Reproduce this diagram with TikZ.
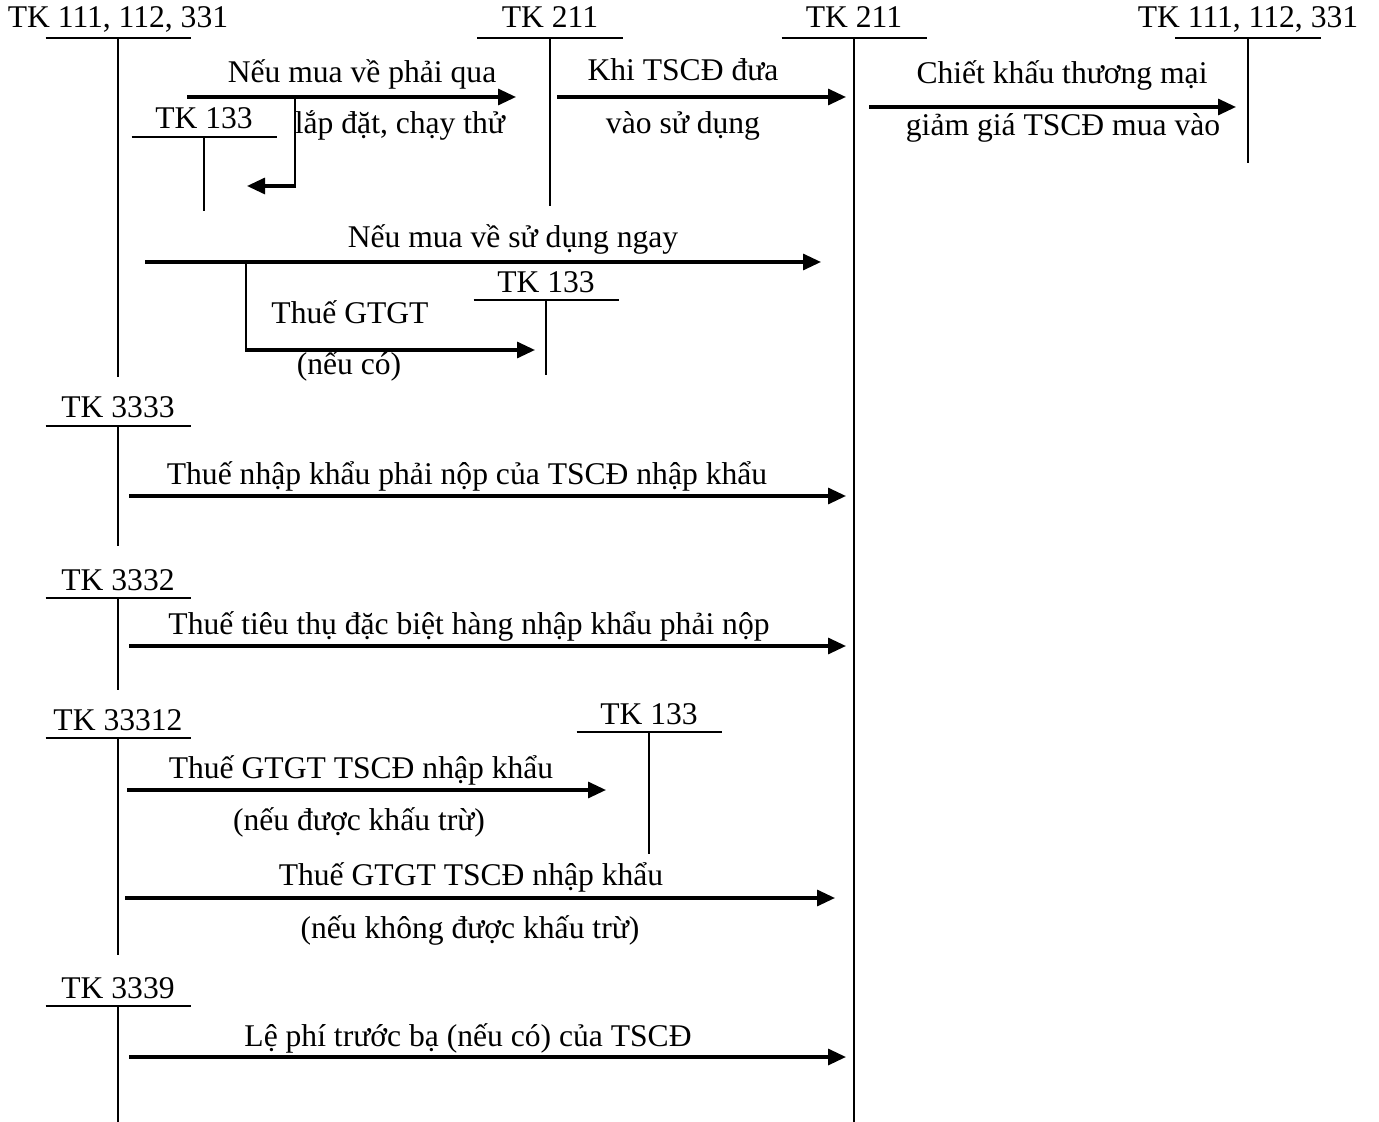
\documentclass[tikz,border=0pt]{standalone}
\usepackage{fontspec}
\setmainfont{Liberation Serif}
\usetikzlibrary{arrows.meta,calc}
\newcommand\TAcc[7]{%
  \node[lbl] (#1) at (#2,#3) {#6};
  \coordinate (#1-top) at (#2,#4);
  \coordinate (#1-bot) at (#2,#5);
  \draw[tline] ($(#1-top)+(-#7,0)$) -- ($(#1-top)+(#7,0)$);
  \draw[tline] (#1-top) -- (#1-bot);}
\begin{document}
\begin{tikzpicture}[x=0.5pt,y=-0.5pt,
  lbl/.style={inner sep=0pt, anchor=base, font=\fontsize{15.8}{19}\selectfont},
  tline/.style={line width=1pt},
  flow/.style={line width=1.6pt, -{Triangle[length=9pt,width=8pt]}}]
\useasboundingbox[fill=white] (0,0) rectangle (1379,1122);

% T-accounts
\TAcc{tA}{118}{28}{38}{377}{TK 111, 112, 331}{72.5}
\TAcc{tB}{204}{129}{137}{211}{TK 133}{72.5}
\TAcc{tC}{550}{28}{38}{206}{TK 211}{73}
\TAcc{tD}{854}{28}{38}{1122}{TK 211}{72.5}
\TAcc{tE}{1248}{28}{38}{163}{TK 111, 112, 331}{73}
\TAcc{tF}{546}{293}{300}{375}{TK 133}{72.5}
\TAcc{tG}{118}{417}{426}{546}{TK 3333}{72.5}
\TAcc{tH}{118}{590}{598}{690}{TK 3332}{72.5}
\TAcc{tI}{118}{730}{738}{955}{TK 33312}{72.5}
\TAcc{tJ}{649}{724}{732}{854}{TK 133}{72.5}
\TAcc{tK}{118}{998}{1006}{1122}{TK 3339}{72.5}

% connector end points
\coordinate (a1s) at (187,97);  \coordinate (a1e) at (516,97);
\coordinate (b1s) at (295,97);  \coordinate (b1c) at (295,186); \coordinate (b1e) at (247,186);
\coordinate (a2s) at (557,97);  \coordinate (a2e) at (846,97);
\coordinate (a3s) at (869,107); \coordinate (a3e) at (1236,107);
\coordinate (a4s) at (145,262); \coordinate (a4e) at (821,262);
\coordinate (b4s) at (246,262); \coordinate (b4c) at (246,350); \coordinate (b4e) at (535,350);
\coordinate (a5s) at (129,496); \coordinate (a5e) at (846,496);
\coordinate (a6s) at (129,646); \coordinate (a6e) at (846,646);
\coordinate (a7s) at (127,790); \coordinate (a7e) at (606,790);
\coordinate (a8s) at (125,898); \coordinate (a8e) at (835,898);
\coordinate (a9s) at (129,1057); \coordinate (a9e) at (846,1057);

\draw[flow] (a1s) -- (a1e);
\draw[tline] (b1s) -- ([yshift=-0.8pt]b1c);
\draw[flow] ([xshift=0.5pt]b1c) -- (b1e);
\draw[flow] (a2s) -- (a2e);
\draw[flow] (a3s) -- (a3e);
\draw[flow] (a4s) -- (a4e);
\draw[tline] (b4s) -- ([yshift=-0.8pt]b4c);
\draw[flow] ([xshift=-0.5pt]b4c) -- (b4e);
\draw[flow] (a5s) -- (a5e);
\draw[flow] (a6s) -- (a6e);
\draw[flow] (a7s) -- (a7e);
\draw[flow] (a8s) -- (a8e);
\draw[flow] (a9s) -- (a9e);

% labels
\node[lbl] (l1a) at (362,83) {Nếu mua về phải qua};
\node[lbl] (l1b) at (400,134) {lắp đặt, chạy thử};
\node[lbl] (l2a) at (683,81) {Khi TSCĐ đưa};
\node[lbl] (l2b) at (683,134) {vào sử dụng};
\node[lbl] (l3a) at (1062,84) {Chiết khấu thương mại};
\node[lbl] (l3b) at (1063,136) {giảm giá TSCĐ mua vào};
\node[lbl] (l4) at (513,248) {Nếu mua về sử dụng ngay};
\node[lbl] (l4a) at (350,324) {Thuế GTGT};
\node[lbl] (l4b) at (349,375) {(nếu có)};
\node[lbl] (l5) at (467,484) {Thuế nhập khẩu phải nộp của TSCĐ nhập khẩu};
\node[lbl] (l6) at (469,634) {Thuế tiêu thụ đặc biệt hàng nhập khẩu phải nộp};
\node[lbl] (l7a) at (361,778) {Thuế GTGT TSCĐ nhập khẩu};
\node[lbl] (l7b) at (359,830) {(nếu được khấu trừ)};
\node[lbl] (l8a) at (471,885) {Thuế GTGT TSCĐ nhập khẩu};
\node[lbl] (l8b) at (470,938) {(nếu không được khấu trừ)};
\node[lbl] (l9) at (468,1046) {Lệ phí trước bạ (nếu có) của TSCĐ};
\end{tikzpicture}
\end{document}
